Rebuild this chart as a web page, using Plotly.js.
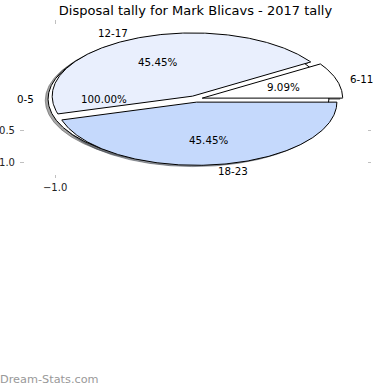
<!DOCTYPE html>
<html>
<head>
<meta charset="utf-8">
<script src="https://cdn.plot.ly/plotly-3.0.1.min.js"></script>
<style>html,body{margin:0;padding:0;background:#fff;}#chart{width:390px;height:390px;}</style>
</head>
<body>
<div id="chart"></div>
<script>
// Layer 1 (drawn first, underneath): a single full wedge
const baseLabels = ['0-5'];
const baseValues = [1];
const baseColors = ['#ffffff'];
// Layer 2 (drawn on top)
const mainLabels = ['6-11', '12-17', '18-23'];
const mainValues = [1, 5, 5];
const mainColors = ['#ffffff', '#e9effd', '#c5d9fc'];

const titleText = 'Disposal tally for Mark Blicavs - 2017 tally';
const xTickVals = [-1.0];
const yTickVals = [-0.5, -1.0];
const footerText = 'Dream-Stats.com';

const EXPLODE = 0.05, RADIUS = 1, LABEL_D = 1.1, PCT_D = 0.6, SHADOW_OFF = -0.02;
const FONT = 'DejaVu Sans';

function buildLayer(labels, values, colors) {
  const total = values.reduce((a, b) => a + b, 0);
  let theta = 0;
  return labels.map((lab, i) => {
    const frac = values[i] / total;
    const t1 = theta, t2 = theta + 360 * frac;
    theta = t2;
    const tm = (t1 + t2) / 2 * Math.PI / 180;
    const cx = EXPLODE * Math.cos(tm), cy = EXPLODE * Math.sin(tm);
    return {label: lab, pct: (100 * frac).toFixed(2) + '%', color: colors[i], t1, t2, tm, cx, cy};
  });
}

function wedgePath(w, dx, dy) {
  const xs = [], ys = [];
  const full = Math.abs((w.t2 - w.t1) - 360) < 1e-9;
  const n = Math.max(8, Math.ceil((w.t2 - w.t1) / 0.5));
  if (!full) { xs.push(w.cx + dx); ys.push(w.cy + dy); }
  for (let k = 0; k <= n; k++) {
    const a = (w.t1 + (w.t2 - w.t1) * k / n) * Math.PI / 180;
    xs.push(w.cx + dx + RADIUS * Math.cos(a));
    ys.push(w.cy + dy + RADIUS * Math.sin(a));
  }
  xs.push(xs[0]); ys.push(ys[0]);
  return {xs, ys};
}

function shade(hex) {
  const r = parseInt(hex.slice(1, 3), 16), g = parseInt(hex.slice(3, 5), 16), b = parseInt(hex.slice(5, 7), 16);
  return `rgba(${Math.round(r * 0.3)},${Math.round(g * 0.3)},${Math.round(b * 0.3)},0.5)`;
}

const base = buildLayer(baseLabels, baseValues, baseColors);
const main = buildLayer(mainLabels, mainValues, mainColors);
const all = base.concat(main);

const traces = [];
all.forEach(w => {
  const p = wedgePath(w, SHADOW_OFF, SHADOW_OFF);
  traces.push({x: p.xs, y: p.ys, type: 'scatter', mode: 'lines', fill: 'toself',
    fillcolor: shade(w.color), line: {color: shade(w.color), width: 1}, hoverinfo: 'skip', showlegend: false});
});
all.forEach(w => {
  const p = wedgePath(w, 0, 0);
  traces.push({x: p.xs, y: p.ys, type: 'scatter', mode: 'lines', fill: 'toself',
    fillcolor: w.color, line: {color: '#000000', width: 1}, name: w.label, hoverinfo: 'name', showlegend: false});
});

const annotations = [];
all.forEach(w => {
  const lx = w.cx + LABEL_D * RADIUS * Math.cos(w.tm);
  const ly = w.cy + LABEL_D * RADIUS * Math.sin(w.tm);
  annotations.push({x: lx, y: ly, xref: 'x', yref: 'y', text: w.label, showarrow: false, borderpad: 0, borderwidth: 0,
    xanchor: lx > 0 ? 'left' : 'right', yanchor: 'middle', font: {family: FONT, size: 10.3, color: '#000'}});
  const px = w.cx + PCT_D * RADIUS * Math.cos(w.tm);
  const py = w.cy + PCT_D * RADIUS * Math.sin(w.tm);
  annotations.push({x: px, y: py, xref: 'x', yref: 'y', text: w.pct, showarrow: false, borderpad: 0, borderwidth: 0,
    xanchor: 'center', yanchor: 'middle', font: {family: FONT, size: 10.3, color: '#000'}});
});
annotations.push({x: -20 / 351, y: (178 - 380) / 158, xref: 'paper', yref: 'paper', text: footerText,
  showarrow: false, borderpad: 0, borderwidth: 0, xanchor: 'left', yanchor: 'middle',
  font: {family: FONT, size: 11.3, color: '#999999'}});

const axisCommon = {
  showgrid: false, zeroline: false, showline: false, ticks: 'inside', ticklen: 3.5, tickwidth: 1,
  tickcolor: '#c0c0c0', mirror: 'ticks', tickformat: '.1f', tickmode: 'array',
  tickfont: {family: FONT, size: 10, color: '#222'}, fixedrange: true
};

const layout = {
  width: 390, height: 390, autosize: false,
  margin: {l: 20, r: 19, t: 20, b: 212, pad: 0},
  paper_bgcolor: '#ffffff', plot_bgcolor: 'rgba(0,0,0,0)',
  title: {text: titleText, x: 0.5, xref: 'paper', xanchor: 'center', y: 1 - 10 / 390, yref: 'container', yanchor: 'middle',
    font: {family: FONT, size: 13, color: '#000'}},
  xaxis: Object.assign({}, axisCommon, {range: [-1.25, 1.25], tickvals: xTickVals, automargin: false, ticklabelstandoff: 2}),
  yaxis: Object.assign({}, axisCommon, {range: [-1.25, 1.25], tickvals: yTickVals, automargin: false, ticklabelstandoff: 4}),
  annotations: annotations,
  showlegend: false
};

Plotly.newPlot('chart', traces, layout, {staticPlot: true, displayModeBar: false});
</script>
</body>
</html>
